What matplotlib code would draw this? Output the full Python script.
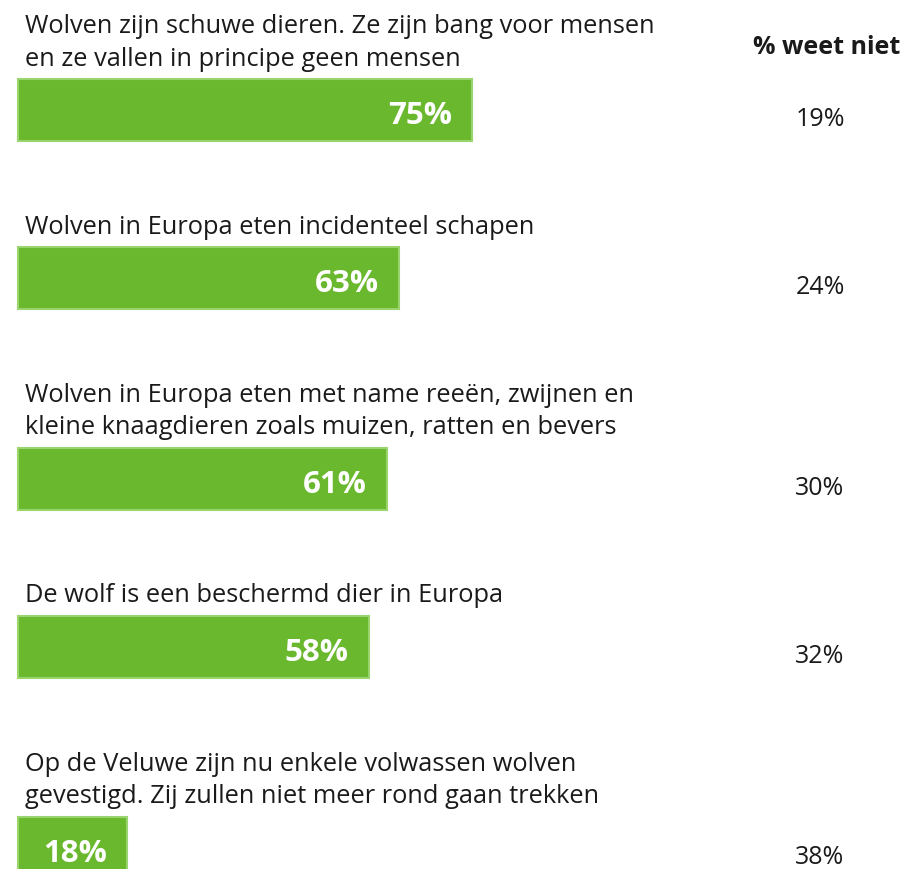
import matplotlib
matplotlib.use("Agg")
import matplotlib.pyplot as plt

statements = [
    "Wolven zijn schuwe dieren. Ze zijn bang voor mensen\nen ze vallen in principe geen mensen",
    "Wolven in Europa eten incidenteel schapen",
    "Wolven in Europa eten met name reeën, zwijnen en\nkleine knaagdieren zoals muizen, ratten en bevers",
    "De wolf is een beschermd dier in Europa",
    "Op de Veluwe zijn nu enkele volwassen wolven\ngevestigd. Zij zullen niet meer rond gaan trekken",
]
juist = [75, 63, 61, 58, 18]
weet_niet = [19, 24, 30, 32, 38]
header = "% weet niet"

plt.rcParams['font.family'] = ['Open Sans', 'DejaVu Sans']

W, H = 904, 870
fig = plt.figure(figsize=(W / 100, H / 100), dpi=100)
ax = fig.add_axes([0, 0, 1, 1])
px_per_pct = 6.05
x0 = 18
ax.set_xlim(-x0 / px_per_pct, (W - x0) / px_per_pct)
ax.set_ylim(H, 0)
ax.axis('off')

green = '#6ab82e'
edge = '#9ad46e'
text_col = '#1a1a1a'
bar_h = 62
line_h = 32.5

bar_top = 80
for k, (s, v, wn) in enumerate(zip(statements, juist, weet_niet)):
    lines = s.split('\n')
    n = len(lines)
    for i, ln in enumerate(lines):
        ly = bar_top - 24 - (n - 1 - i) * line_h
        ax.text(7 / px_per_pct, ly, ln, ha='left', va='center_baseline', fontsize=18.3,
                color=text_col)
    yc = bar_top + bar_h / 2
    ax.barh(yc, v, height=bar_h, left=0, color=green, edgecolor=edge, linewidth=1.5)
    ax.text(v - 20 / px_per_pct, yc + 2, f"{v}%", ha='right', va='center_baseline',
            fontsize=22.5, fontweight='bold', color='white')
    ax.text((820 - x0) / px_per_pct, yc + 6, f"{wn}%", ha='center',
            va='center_baseline', fontsize=18, color=text_col)
    if k + 1 < len(statements):
        n_next = statements[k + 1].count('\n') + 1
        bar_top = bar_top + bar_h + 73 + n_next * 33

ax.text((900 - x0) / px_per_pct, 44, header, ha='right', va='center_baseline',
        fontsize=18, fontweight='bold', color=text_col)

fig.savefig('out.png', dpi=100)
